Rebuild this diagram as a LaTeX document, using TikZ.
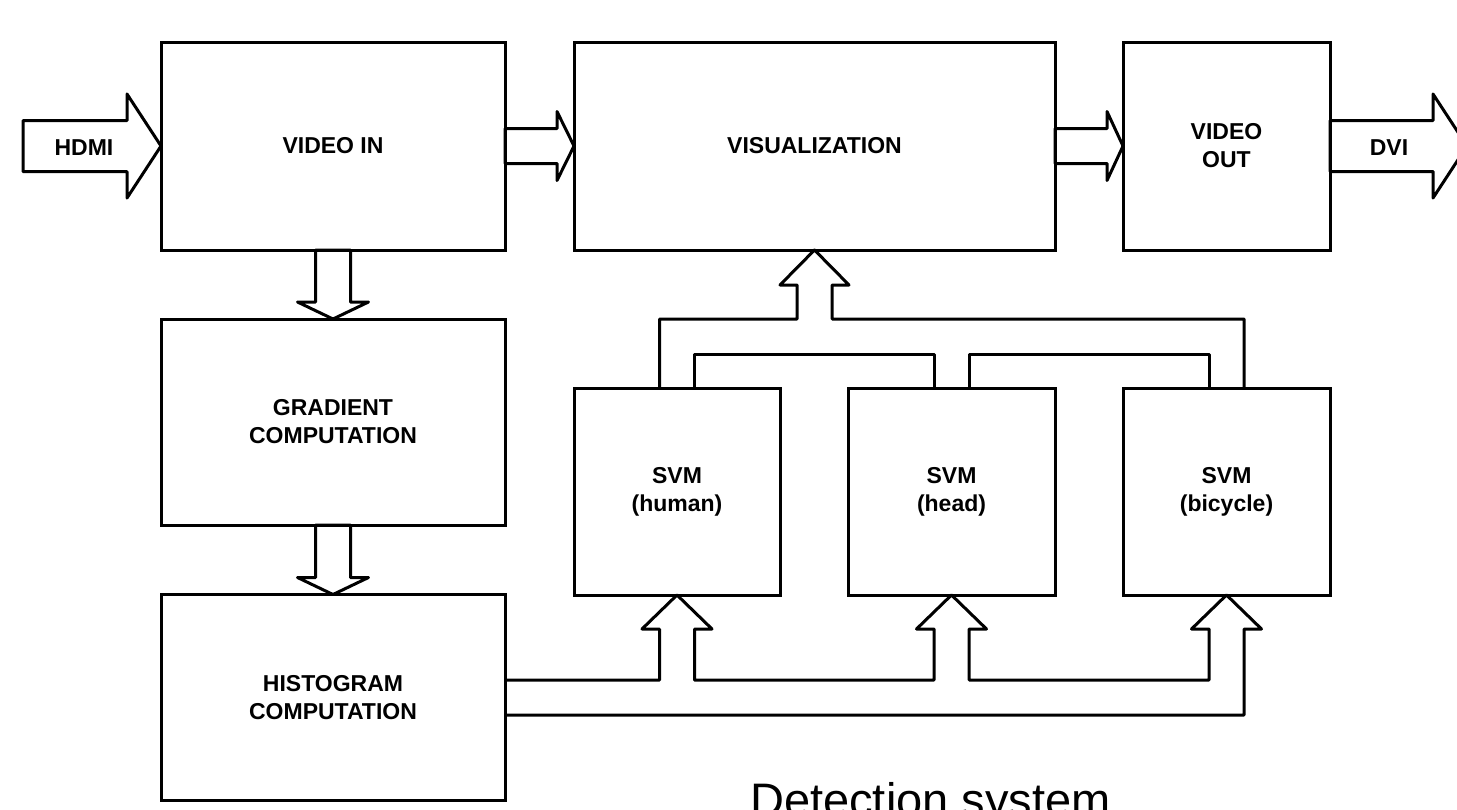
\documentclass[tikz,border=0pt]{standalone}
\usepackage{fontspec}
\setmainfont{Liberation Sans}
\usetikzlibrary{calc}
\tikzset{
  block/.style={draw, line width=3pt, inner sep=0pt, outer sep=0pt, align=center,
    font=\bfseries\fontsize{23}{28}\selectfont},
  blk/.style={draw, line width=3pt, line join=round},
  lbl/.style={inner sep=0pt, font=\bfseries\fontsize{23}{28}\selectfont}
}
\begin{document}
\begin{tikzpicture}[x=1pt, y=-1pt]
\useasboundingbox (0,0) rectangle (1457,809);

% processing blocks
\node[block, minimum width=344, minimum height=208] (vin)  at (333,146)   {VIDEO IN};
\node[block, minimum width=344, minimum height=206] (grad) at (333,422)   {GRADIENT\\COMPUTATION};
\node[block, minimum width=344, minimum height=206] (hist) at (333,697.5) {HISTOGRAM\\COMPUTATION};
\node[block, minimum width=481, minimum height=208] (vis)  at (814.5,146) {VISUALIZATION};
\node[block, minimum width=207, minimum height=208] (vout) at (1226.5,146) {VIDEO\\OUT};
\node[block, minimum width=206, minimum height=207] (svm1) at (677,491.5)   {SVM\\(human)};
\node[block, minimum width=207, minimum height=207] (svm2) at (951.5,491.5) {SVM\\(head)};
\node[block, minimum width=207, minimum height=207] (svm3) at (1226.5,491.5) {SVM\\(bicycle)};

% free ends of the input and output arrows
\coordinate (hdmi) at (23,146);
\coordinate (dvi) at (1467,146);

% HDMI input
\draw[blk] (vin.west) -- ++(-34,52) -- ++(0,-26.5) -- ($(hdmi)+(0,25.5)$)
  -- ($(hdmi)+(0,-25.5)$) -- ($(vin.west)+(-34,-25.5)$) -- ++(0,-26.5) -- cycle;
\node[lbl] (hdmil) at (84,148) {HDMI};

% DVI output
\draw[blk] (dvi) -- ++(-34,52) -- ++(0,-26.5) -- ($(vout.east)+(0,25.5)$)
  -- ($(vout.east)+(0,-25.5)$) -- ($(dvi)+(-34,-25.5)$) -- ++(0,-26.5) -- cycle;
\node[lbl] (dvil) at (1389,148) {DVI};

% video in -> visualization
\draw[blk] (vis.west) -- ++(-17,34.5) -- ++(0,-17) -- ($(vin.east)+(0,17.5)$)
  -- ($(vin.east)+(0,-17.5)$) -- ($(vis.west)+(-17,-17.5)$) -- ++(0,-17) -- cycle;

% visualization -> video out
\draw[blk] (vout.west) -- ++(-16,34.5) -- ++(0,-17) -- ($(vis.east)+(0,17.5)$)
  -- ($(vis.east)+(0,-17.5)$) -- ($(vout.west)+(-16,-17.5)$) -- ++(0,-17) -- cycle;

% video in -> gradient -> histogram
\draw[blk] (grad.north) -- ++(-35.5,-17) -- ++(18,0) -- ($(vin.south)+(-17.5,0)$)
  -- ($(vin.south)+(17.5,0)$) -- ($(grad.north)+(17.5,-17)$) -- ++(18,0) -- cycle;
\draw[blk] (hist.north) -- ++(-35.5,-17) -- ++(18,0) -- ($(grad.south)+(-17.5,0)$)
  -- ($(grad.south)+(17.5,0)$) -- ($(hist.north)+(17.5,-17)$) -- ++(18,0) -- cycle;

% histogram -> SVM feature bus
\coordinate (b1) at ($(hist.east)+(0,-17.5)$);
\coordinate (b2) at ($(hist.east)+(0,17.5)$);
\draw[blk] (b2) -- ($(svm3.south)+(17.5,120)$) -- ++(0,-86) -- ++(17.5,0) -- (svm3.south)
  -- ++(-35,34) -- ++(17.5,0) -- ++(0,51) -- ($(svm2.south)+(17.5,85)$)
  -- ++(0,-51) -- ++(17.5,0) -- (svm2.south)
  -- ++(-35,34) -- ++(17.5,0) -- ++(0,51) -- ($(svm1.south)+(17.5,85)$)
  -- ++(0,-51) -- ++(17.5,0) -- (svm1.south)
  -- ++(-35,34) -- ++(17.5,0) -- ++(0,51) -- (b1);

% SVM results -> visualization
\draw[blk] ($(svm1.north)+(-17.5,0)$) -- ++(0,-69) -- ($(vis.south)+(-17.5,69)$)
  -- ++(0,-34) -- ++(-17,0) -- (vis.south) -- ++(34.5,35) -- ++(-17,0) -- ++(0,34)
  -- ($(svm3.north)+(17.5,-69)$) -- ++(0,69);
\draw[blk] ($(svm2.north)+(-17.5,0)$) -- ++(0,-34) -- ($(svm1.north)+(17.5,-34)$) -- ++(0,34);
\draw[blk] ($(svm3.north)+(-17.5,0)$) -- ++(0,-34) -- ($(svm2.north)+(17.5,-34)$) -- ++(0,34);

% caption
\node[anchor=base west, inner sep=0pt, font=\fontsize{47}{56}\selectfont] (title) at (750,816) {Detection system};
\end{tikzpicture}
\end{document}
